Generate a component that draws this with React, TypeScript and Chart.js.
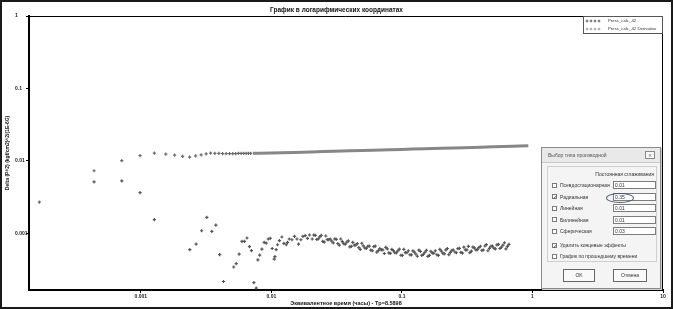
import React, { useEffect, useRef } from "react";
import { Chart, registerables } from "chart.js";

Chart.register(...registerables);

// ---------- data ----------
const chartTitle = "График в логарифмических координатах";
const xTitle = "Эквивалентное время (часы) - Tp=8.5898";
const yTitle = "Delta (P^2) (kgf/cm2)^2/(1E-6G)";
const seriesNames = ["Press_calc_42", "Press_calc_42 Derivative"];

const xTickValues = [0.001, 0.01, 0.1, 1, 10];
const yTickValues = [0.001, 0.01, 0.1, 1];

const pressTime = [
  1.67e-4, 4.38e-4, 7.14e-4, 9.86e-4, 1.269e-3, 1.552e-3, 1.813e-3, 2.089e-3, 2.363e-3,
  2.627e-3, 2.895e-3, 3.162e-3, 3.423e-3, 3.69e-3, 3.96e-3, 4.23e-3, 4.5e-3, 4.78e-3,
  5.05e-3, 5.32e-3, 5.59e-3, 5.86e-3, 6.13e-3, 6.4e-3, 6.67e-3, 6.94e-3, 7.21e-3,
  0.008, 0.01, 0.012, 0.015, 0.02, 0.025, 0.03, 0.04, 0.05, 0.06, 0.08, 0.1, 0.12, 0.15,
  0.2, 0.25, 0.3, 0.4, 0.5, 0.6, 0.7, 0.8, 0.93,
];
const pressValue = [
  2.69e-3, 7.28e-3, 0.01005, 0.0118, 0.01274, 0.01233, 0.012, 0.01153, 0.01124,
  0.01169, 0.01206, 0.01245, 0.01274, 0.01268, 0.01262, 0.01258, 0.01255, 0.01252,
  0.01255, 0.01258, 0.01262, 0.01264, 0.01262, 0.01262, 0.01265, 0.01267, 0.01269,
  0.01268, 0.01278, 0.0129, 0.01305, 0.01324, 0.01339, 0.01352, 0.01371, 0.01387, 0.014,
  0.0142, 0.01436, 0.0145, 0.01466, 0.01488, 0.01505, 0.01519, 0.01542, 0.01559, 0.01573,
  0.01586, 0.01596, 0.01609,
];

const derivTimeEarly = [
  4.38e-4, 7.14e-4, 9.86e-4, 1.269e-3, 2.371e-3, 2.651e-3, 2.92e-3, 3.201e-3, 3.497e-3,
  3.753e-3, 4.013e-3, 4.293e-3, 5.14e-3, 5.373e-3, 5.664e-3, 5.95e-3, 6.219e-3, 6.5e-3,
  6.794e-3, 7.037e-3, 7.342e-3, 7.645e-3, 7.879e-3, 8.133e-3, 8.455e-3, 8.807e-3,
  9.123e-3, 9.452e-3, 9.79e-3, 0.01014, 0.01051, 0.01064, 0.01088, 0.01114, 0.01153,
  0.01203, 0.01247, 0.01299, 0.01329, 0.0137, 0.01436, 0.01503, 0.01569, 0.01614,
  0.01683, 0.01744, 0.01816, 0.01891, 0.01959,
];
const derivValueEarly = [
  5.12e-3, 5.28e-3, 3.64e-3, 1.54e-3, 5.94e-4, 7.07e-4, 1.08e-3, 1.65e-3, 1.06e-3,
  1.29e-3, 5.06e-4, 2.15e-4, 3.41e-4, 3.79e-4, 5.13e-4, 7.69e-4, 7.69e-4, 8.57e-4,
  6.53e-4, 5.74e-4, 2.07e-4, 1.74e-4, 4.27e-4, 4.97e-4, 6.02e-4, 7.45e-4,
  7.3e-4, 8.3e-4, 8.47e-4, 6.14e-4, 4.37e-4, 4.75e-4, 5.94e-4, 6.92e-4, 7.87e-4,
  8.85e-4, 7.21e-4, 6.92e-4, 7.45e-4, 8.3e-4, 8.11e-4, 9.02e-4, 8.3e-4, 7.07e-4,
  8.11e-4, 9.02e-4, 9.23e-4, 8.47e-4, 9.44e-4,
];
const derivTimeLate = [
  0.02055, 0.02167, 0.02285, 0.02409, 0.02541, 0.02679, 0.02824, 0.02978, 0.0314, 0.03311,
  0.03491, 0.03681, 0.03882, 0.04093, 0.04315, 0.0455, 0.04797, 0.05058, 0.05333, 0.05623,
  0.05929, 0.06252, 0.06592, 0.0695, 0.07328, 0.07727, 0.08147, 0.0859, 0.09061, 0.09552,
  0.1007, 0.1062, 0.112, 0.1181, 0.1245, 0.1313, 0.1384, 0.1459, 0.1539, 0.1622,
  0.171, 0.1803, 0.1901, 0.2004, 0.2113, 0.2229, 0.235, 0.2478, 0.2613, 0.2755,
  0.2904, 0.3062, 0.3229, 0.3404, 0.3589, 0.3785, 0.3991, 0.4208, 0.4436, 0.4678,
  0.4932, 0.52, 0.5485, 0.5783, 0.6098, 0.643,
];
const derivValueLate = [
  8.3e-4, 9.3e-4, 8.33e-4, 9.32e-4, 7.54e-4, 8.14e-4, 8.25e-4, 7.35e-4, 8.19e-4, 6.85e-4,
  7.64e-4, 7.03e-4, 7.83e-4, 6.55e-4, 6.85e-4, 7.16e-4, 5.98e-4, 6.67e-4, 6.14e-4, 6.63e-4,
  5.74e-4, 6.64e-4, 5.75e-4, 5.86e-4, 5.24e-4, 6.07e-4, 5.26e-4, 5.74e-4, 5.33e-4, 6.0e-4,
  4.92e-4, 5.39e-4, 5.72e-4, 5.01e-4, 5.48e-4, 4.8e-4, 5.61e-4, 5.1e-4, 5.79e-4, 4.93e-4,
  5.31e-4, 5.72e-4, 4.92e-4, 5.65e-4, 5.18e-4, 6.14e-4, 5.43e-4, 5.85e-4, 5.36e-4, 6.16e-4,
  5.29e-4, 5.89e-4, 6.55e-4, 5.63e-4, 6.26e-4, 5.92e-4, 6.59e-4, 5.85e-4, 6.94e-4, 6.16e-4,
  6.63e-4, 6.08e-4, 6.98e-4, 6.4e-4, 7.37e-4, 6.57e-4,
];
const derivTimeLate2 = [
  0.0211, 0.02226, 0.02347, 0.02474, 0.0261, 0.02751, 0.029, 0.03058, 0.03225, 0.034,
  0.03585, 0.0378, 0.03987, 0.04203, 0.04432, 0.04673, 0.04927, 0.05195, 0.05477, 0.05775,
  0.06089, 0.06421, 0.0677, 0.07138, 0.07526, 0.07936, 0.08367, 0.08822, 0.09306, 0.0981,
  0.1034, 0.1091, 0.115, 0.1213, 0.1279, 0.1348, 0.1421, 0.1498, 0.1581, 0.1666,
  0.1756, 0.1852, 0.1952, 0.2058, 0.217, 0.2289, 0.2413, 0.2545, 0.2684, 0.2829,
  0.2982, 0.3145, 0.3316, 0.3496, 0.3686, 0.3887, 0.4099, 0.4322, 0.4556, 0.4804,
  0.5065, 0.534, 0.5633, 0.5939, 0.6263, 0.6604,
];
const derivValueLate2 = [
  9.44e-4, 8.18e-4, 8.88e-4, 7.69e-4, 9.14e-4, 8.14e-4, 7.74e-4, 8.36e-4, 7.2e-4, 8.31e-4,
  7.16e-4, 7.5e-4, 6.46e-4, 7.45e-4, 6.85e-4, 6.3e-4, 7.25e-4, 6.25e-4, 6.55e-4, 5.83e-4,
  6.53e-4, 5.48e-4, 6.13e-4, 5.86e-4, 6.35e-4, 5.34e-4, 5.98e-4, 5.38e-4, 5.68e-4, 4.95e-4,
  5.97e-4, 5.39e-4, 5.03e-4, 5.7e-4, 5.14e-4, 5.82e-4, 4.93e-4, 5.44e-4, 4.77e-4, 5.61e-4,
  5.31e-4, 5.03e-4, 5.97e-4, 5.3e-4, 5.89e-4, 5.06e-4, 5.79e-4, 5.49e-4, 6.1e-4, 5.42e-4,
  6.42e-4, 5.89e-4, 5.4e-4, 6.4e-4, 5.87e-4, 6.31e-4, 5.79e-4, 6.65e-4, 5.72e-4, 6.57e-4,
  6.22e-4, 6.91e-4, 6.14e-4, 6.83e-4, 6.08e-4, 7.01e-4,
];

// dialog texts
const dialogTitle = "Выбор типа производной";
const smoothingLabel = "Постоянная сглаживания";
const derivTypes = ["Псевдостационарная", "Радиальная", "Линейная", "Билинейная", "Сферическая"];
const derivSmoothing = ["0.01", "0.35", "0.01", "0.01", "0.03"];
const derivChecked = [false, true, false, false, false];
const optionLabels = ["Удалить концевые эффекты", "График по прошедшему времени"];
const optionChecked = [true, false];
const buttonLabels = ["OK", "Отмена"];

const W = 673;
const H = 309;
const FONT = '"Liberation Sans", Arial, sans-serif';
const lineFrom = 0.0072;

const decorPlugin = {
  id: "decor",
  beforeDraw(chart: any) {
    const { ctx } = chart;
    ctx.save();
    ctx.fillStyle = "#ffffff";
    ctx.fillRect(0, 0, W, H);
    ctx.restore();
  },
  afterDraw(chart: any) {
    const { ctx, chartArea: a } = chart;
    ctx.save();
    ctx.strokeStyle = "#000";
    ctx.lineWidth = 1;
    ctx.beginPath();
    ctx.moveTo(a.left, a.top + 0.5);
    ctx.lineTo(a.right - 0.5, a.top + 0.5);
    ctx.lineTo(a.right - 0.5, a.bottom);
    ctx.stroke();

    ctx.fillStyle = "#111";
    ctx.font = `bold 6.5px ${FONT}`;
    ctx.textAlign = "center";
    ctx.textBaseline = "middle";
    ctx.fillText(chartTitle, W / 2, 10.5);

    ctx.save();
    ctx.translate(8, (a.top + a.bottom) / 2);
    ctx.rotate(-Math.PI / 2);
    ctx.font = `bold 5px ${FONT}`;
    ctx.fillText(yTitle, 0, 0);
    ctx.restore();

    const lw = 80, lh = 18;
    const lx = a.right - lw, ly = a.top;
    ctx.fillStyle = "#fff";
    ctx.fillRect(lx, ly, lw, lh);
    ctx.strokeStyle = "#555";
    ctx.lineWidth = 1;
    ctx.strokeRect(lx + 0.5, ly + 0.5, lw - 1, lh - 1);
    const rowsY = [ly + 5, ly + 13];
    const cols = ["#555", "#9a9a9a"];
    rowsY.forEach((ry, r) => {
      ctx.strokeStyle = cols[r];
      for (let i = 0; i < 4; i++) {
        const cx = lx + 4 + i * 4;
        ctx.beginPath();
        ctx.moveTo(cx - 1.3, ry);
        ctx.lineTo(cx + 1.3, ry);
        ctx.moveTo(cx, ry - 1.3);
        ctx.lineTo(cx, ry + 1.3);
        ctx.stroke();
      }
      ctx.fillStyle = "#333";
      ctx.font = `4.3px ${FONT}`;
      ctx.textAlign = "left";
      ctx.textBaseline = "middle";
      ctx.fillText(seriesNames[r], lx + 25, ry);
    });

    ctx.strokeStyle = "#1a1a1a";
    ctx.lineWidth = 2;
    ctx.strokeRect(1, 1, W - 2, H - 2);
    ctx.restore();
  },
};

function CheckBox({ checked }: { checked: boolean }) {
  return (
    <span
      style={{
        position: "absolute",
        width: 5,
        height: 5,
        border: "1px solid #7a7a7a",
        background: "#fff",
        boxSizing: "border-box",
        fontSize: 5,
        lineHeight: "4px",
        textAlign: "center",
        color: "#222",
        fontFamily: '"DejaVu Sans", sans-serif',
      }}
    >
      {checked ? "✓" : ""}
    </span>
  );
}

function Dialog() {
  const txt: React.CSSProperties = {
    position: "absolute",
    fontSize: 5,
    lineHeight: "6px",
    color: "#333",
    whiteSpace: "nowrap",
    fontFamily: FONT,
  };
  const rowY = [37, 48.5, 60, 71.5, 83];
  const optY = [97, 108];
  return (
    <div
      style={{
        position: "absolute",
        left: 541,
        top: 147,
        width: 120,
        height: 142,
        background: "#f4f4f4",
        border: "1px solid #8a8a8a",
        boxSizing: "border-box",
        boxShadow: "1px 1px 0 #cfcfcf",
      }}
    >
      <div
        style={{
          position: "absolute",
          left: 0,
          top: 0,
          right: 0,
          height: 14,
          background: "#e9e9e9",
          borderBottom: "1px solid #c9c9c9",
        }}
      >
        <span style={{ ...txt, left: 6, top: 4, color: "#555" }}>{dialogTitle}</span>
        <span
          style={{
            position: "absolute",
            left: 103,
            top: 3,
            width: 10,
            height: 8,
            border: "1px solid #888",
            boxSizing: "border-box",
            fontSize: 5,
            lineHeight: "6px",
            textAlign: "center",
            color: "#555",
            fontFamily: '"DejaVu Sans", sans-serif',
            background: "#f6f6f6",
          }}
        >
          ×
        </span>
      </div>
      <div
        style={{
          position: "absolute",
          left: 5,
          top: 18,
          width: 110,
          height: 96,
          border: "1px solid #cfcfcf",
          boxSizing: "border-box",
        }}
      />
      <span style={{ ...txt, right: 6, top: 23 }}>{smoothingLabel}</span>
      {derivTypes.map((t, i) => (
        <React.Fragment key={t}>
          <span style={{ position: "absolute", left: 10, top: rowY[i] - 2.5 }}>
            <CheckBox checked={derivChecked[i]} />
          </span>
          <span style={{ ...txt, left: 18, top: rowY[i] - 3 }}>{t}</span>
          <span
            style={{
              position: "absolute",
              left: 71,
              top: rowY[i] - 4,
              width: 43,
              height: 8,
              border: "1px solid #7d7d7d",
              background: "#fff",
              boxSizing: "border-box",
              fontSize: 5,
              lineHeight: "6px",
              paddingLeft: 1,
              color: "#333",
              fontFamily: FONT,
            }}
          >
            {derivSmoothing[i]}
          </span>
        </React.Fragment>
      ))}
      <span
        style={{
          position: "absolute",
          left: 64,
          top: 45,
          width: 28,
          height: 10,
          border: "1px solid #4a5a7a",
          borderRadius: "50%",
          boxSizing: "border-box",
        }}
      />
      {optionLabels.map((t, i) => (
        <React.Fragment key={t}>
          <span style={{ position: "absolute", left: 10, top: optY[i] - 2.5 }}>
            <CheckBox checked={optionChecked[i]} />
          </span>
          <span style={{ ...txt, left: 18, top: optY[i] - 3 }}>{t}</span>
        </React.Fragment>
      ))}
      {buttonLabels.map((b, i) => (
        <span
          key={b}
          style={{
            position: "absolute",
            left: i === 0 ? 21 : 71,
            top: 121,
            width: i === 0 ? 32 : 34,
            height: 13,
            border: "1px solid #666",
            background: "#f9f9f9",
            boxSizing: "border-box",
            fontSize: 5,
            lineHeight: "11px",
            textAlign: "center",
            color: "#333",
            fontFamily: FONT,
          }}
        >
          {b}
        </span>
      ))}
    </div>
  );
}

export default function App() {
  const canvasRef = useRef<HTMLCanvasElement | null>(null);

  useEffect(() => {
    document.body.style.margin = "0";
    const canvas = canvasRef.current;
    if (!canvas) return;
    Chart.defaults.font.family = FONT;

    const pressData = pressTime.map((t, i) => ({ x: t, y: pressValue[i] }));
    const dTimes = [...derivTimeEarly, ...derivTimeLate, ...derivTimeLate2];
    const dValues = [...derivValueEarly, ...derivValueLate, ...derivValueLate2];
    const derivData = dTimes.map((t, i) => ({ x: t, y: dValues[i] }));

    const chart = new Chart(canvas, {
      type: "scatter",
      data: {
        datasets: [
          {
            label: seriesNames[0],
            data: pressData,
            showLine: true,
            borderColor: "#878787",
            borderWidth: 3,
            segment: {
              borderColor: (ctx: any) =>
                ctx.p0.parsed.x >= lineFrom ? "#878787" : "rgba(0,0,0,0)",
            },
            pointStyle: "cross",
            pointRadius: (ctx: any) => (ctx.raw && ctx.raw.x > lineFrom ? 0 : 1.6),
            pointBorderColor: "#6a6a6a",
            pointBorderWidth: 1.2,
            pointBackgroundColor: "#6a6a6a",
          } as any,
          {
            label: seriesNames[1],
            data: derivData,
            showLine: false,
            pointStyle: "cross",
            pointRadius: 1.6,
            pointBorderColor: "#555",
            pointBorderWidth: 1.2,
            pointBackgroundColor: "#555",
          } as any,
        ],
      },
      options: {
        responsive: false,
        animation: false,
        devicePixelRatio: 1,
        layout: { padding: { left: 15, top: 16, right: 10, bottom: 0 } },
        plugins: {
          legend: { display: false },
          title: { display: false },
          tooltip: { enabled: false },
        },
        scales: {
          x: {
            type: "logarithmic",
            position: "bottom",
            min: 1.39e-4,
            max: 10,
            afterBuildTicks: (scale: any) => {
              scale.ticks = xTickValues.map((v) => ({ value: v }));
            },
            afterFit: (scale: any) => {
              scale.height = 19;
            },
            ticks: {
              autoSkip: false,
              maxRotation: 0,
              padding: 1,
              color: "#222",
              font: { size: 5, weight: "bold" },
              callback: (v: any) => String(v),
            },
            grid: {
              display: true,
              drawOnChartArea: false,
              drawTicks: true,
              tickLength: 3,
              color: "#000",
            },
            border: { display: true, color: "#000", width: 2 },
            title: {
              display: true,
              text: xTitle,
              color: "#111",
              font: { size: 5.5, weight: "bold" },
              padding: { top: 0, bottom: 2 },
            },
          },
          y: {
            type: "logarithmic",
            position: "left",
            min: 1.64e-4,
            max: 1,
            afterBuildTicks: (scale: any) => {
              scale.ticks = yTickValues.map((v) => ({ value: v }));
            },
            afterFit: (scale: any) => {
              scale.width = 14;
            },
            ticks: {
              autoSkip: false,
              crossAlign: "far",
              padding: 1,
              color: "#222",
              font: { size: 5, weight: "bold" },
              callback: (v: any) => String(v),
            },
            grid: {
              display: true,
              drawOnChartArea: false,
              drawTicks: true,
              tickLength: 3,
              color: "#000",
            },
            border: { display: true, color: "#000", width: 2 },
          },
        },
      } as any,
      plugins: [decorPlugin],
    });

    return () => chart.destroy();
  }, []);

  return (
    <div
      style={{
        position: "fixed",
        left: 0,
        top: 0,
        width: W,
        height: H,
        overflow: "hidden",
        background: "#fff",
      }}
    >
      <canvas ref={canvasRef} width={W} height={H} style={{ width: W, height: H, display: "block" }} />
      <Dialog />
    </div>
  );
}
